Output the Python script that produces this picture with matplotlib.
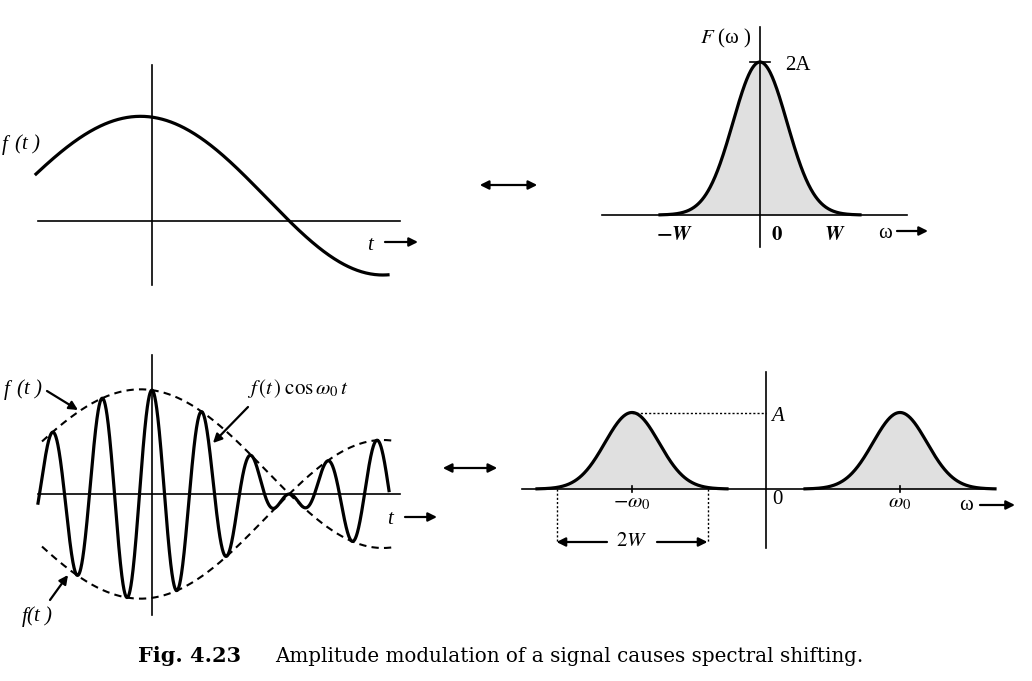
import numpy as np
import matplotlib
matplotlib.use('Agg')
import matplotlib.pyplot as plt

plt.rcParams['font.family'] = ['Liberation Serif', 'DejaVu Serif']
plt.rcParams['mathtext.fontset'] = 'stix'

# signal f(t) (t and f in units of 100 px)
t_nodes = [-1.17, -0.85, -0.52, -0.25, -0.04, 0.12, 0.28, 0.55, 0.81, 1.08, 1.38, 1.68, 2.01, 2.35]
f_nodes = [0.46, 0.74, 0.95, 1.02, 1.05, 1.03, 0.95, 0.77, 0.56, 0.31, 0.0, -0.29, -0.47, -0.54]
carrier_period = 0.50       # one cycle of cos(w0 t)
t_span = [-1.14, 2.37]

# spectrum
peak_2A = 1.53              # F(0) = 2A
peak_A = 0.765              # half height after modulation
sigma = 0.27                # width of the bell
w0 = 1.34                   # carrier position
W_half = 0.755              # band edge
top_labels = ['$\\mathbf{-}\\boldsymbol{W}$', '$\\mathbf{0}$', '$\\boldsymbol{W}$']
top_label_pos = [-0.85, 0.17, 0.75]

W, H = 1032, 681
fig = plt.figure(figsize=(W / 100, H / 100), dpi=100, facecolor='white')


def panel(x0, x1, y0, y1, ox, oy):
    # axes over a pixel box, data unit = 100 px, origin at (ox, oy)
    ax = fig.add_axes([x0 / W, 1 - y1 / H, (x1 - x0) / W, (y1 - y0) / H])
    ax.set_xlim((x0 - ox) / 100, (x1 - ox) / 100)
    ax.set_ylim((oy - y1) / 100, (oy - y0) / 100)
    ax.axis('off')
    return ax


def arrow(ax, start, end, lw=1.6, ms=13):
    ax.annotate('', xy=end, xytext=start,
                arrowprops=dict(arrowstyle='-|>', lw=lw, color='black',
                                mutation_scale=ms, shrinkA=0, shrinkB=0),
                annotation_clip=False)


coef = np.polyfit(t_nodes, f_nodes, 6)
lbl = dict(fontsize=15, style='italic', color='black')

# ---- upper left: f(t)
ax1 = panel(0, 440, 40, 300, 152, 221)
ax1.plot([-1.14, 2.48], [0, 0], color='black', lw=1.2)
ax1.plot([0, 0], [-0.64, 1.56], color='black', lw=1.2)
tt = np.linspace(-1.16, 2.36, 400)
ax1.plot(tt, np.polyval(coef, tt), color='black', lw=2.3)
ax1.text(-1.12, 0.76, '(t )', ha='right', va='center', clip_on=False, **lbl)
ax1.text(-1.44, 0.76, 'f', ha='right', va='center', clip_on=False, **lbl)
ax1.text(2.18, -0.24, 't', ha='center', va='center', **lbl)
arrow(ax1, (2.33, -0.21), (2.66, -0.21))

# ---- upper right: F(w)
ax2 = panel(560, 1032, 0, 300, 760, 215)
ww = np.linspace(-1.0, 1.0, 400)
Fw = peak_2A * np.exp(-ww ** 2 / (2 * sigma ** 2))
ax2.fill_between(ww, Fw, color='#e0e0e0', lw=0)
ax2.plot(ww, Fw, color='black', lw=2.3)
ax2.plot([-1.58, 1.47], [0, 0], color='black', lw=1.2)
ax2.plot([0, 0], [-0.32, 1.88], color='black', lw=1.2)
ax2.plot([-0.1, 0.1], [peak_2A, peak_2A], color='black', lw=1.2)
ax2.text(0.25, peak_2A - 0.03, '2A', ha='left', va='center', fontsize=15)
ax2.text(-0.08, 1.77, '$F$ (ω )', ha='right', va='center', fontsize=15)
for s, x in zip(top_labels, top_label_pos):
    ax2.text(x, -0.2, s, ha='center', va='center', fontsize=15)
ax2.text(1.25, -0.18, 'ω', ha='center', va='center', fontsize=15)
arrow(ax2, (1.37, -0.16), (1.68, -0.16))

# ---- lower left: f(t) cos w0 t
ax3 = panel(0, 440, 340, 630, 152, 494)
ax3.plot([-1.14, 2.48], [0, 0], color='black', lw=1.2)
ax3.plot([0, 0], [-1.21, 1.39], color='black', lw=1.2)
te = np.linspace(-1.10, 2.41, 400)
fe = np.polyval(coef, te)
ax3.plot(te, fe, color='black', lw=1.5, ls=(0, (3.5, 2.5)))
ax3.plot(te, -fe, color='black', lw=1.5, ls=(0, (3.5, 2.5)))
tm = np.linspace(t_span[0], t_span[1], 1500)
ax3.plot(tm, np.polyval(coef, tm) * np.cos(2 * np.pi * tm / carrier_period),
         color='black', lw=2.3)
ax3.text(-1.10, 1.04, '(t )', ha='right', va='center', clip_on=False, **lbl)
ax3.text(-1.42, 1.04, 'f', ha='right', va='center', clip_on=False, **lbl)
arrow(ax3, (-1.05, 1.03), (-0.74, 0.84))
ax3.text(1.46, 1.06, '$f\\,(t\\,)\\;\\mathrm{cos}\\,\\omega_0\\, t$', ha='center', va='center', fontsize=15)
arrow(ax3, (0.96, 0.87), (0.61, 0.51))
ax3.text(-1.0, -1.23, '(t )', ha='right', va='center', clip_on=False, **lbl)
ax3.text(-1.24, -1.23, 'f', ha='right', va='center', clip_on=False, **lbl)
arrow(ax3, (-1.02, -1.06), (-0.84, -0.81))
ax3.text(2.38, -0.26, 't', ha='center', va='center', **lbl)
arrow(ax3, (2.53, -0.23), (2.85, -0.23))

# ---- lower right: shifted spectrum
ax4 = panel(500, 1032, 340, 600, 766, 489)
for c in (-w0, w0):
    wb = np.linspace(c - 0.95, c + 0.95, 400)
    Fb = peak_A * np.exp(-(wb - c) ** 2 / (2 * sigma ** 2))
    ax4.fill_between(wb, Fb, color='#e0e0e0', lw=0)
    ax4.plot(wb, Fb, color='black', lw=2.3)
    ax4.plot([c, c], [-0.03, 0.03], color='black', lw=1.2)
ax4.plot([-2.44, 2.24], [0, 0], color='black', lw=1.2)
ax4.plot([0, 0], [-0.59, 1.17], color='black', lw=1.2)
ax4.plot([-w0, 0], [peak_A, peak_A], color='black', lw=1.0, ls=(0, (1.5, 1.5)))
ax4.text(0.05, peak_A - 0.04, 'A', ha='left', va='center', **lbl)
for e in (-w0 - W_half, -w0 + W_half):
    ax4.plot([e, e], [0, -0.53], color='black', lw=1.0, ls=(0, (1.5, 1.5)))
arrow(ax4, (-w0 - 0.25, -0.53), (-w0 - W_half, -0.53))
arrow(ax4, (-w0 + 0.25, -0.53), (-w0 + W_half, -0.53))
ax4.text(-w0, -0.53, '$2W$', ha='center', va='center', fontsize=15)
ax4.text(-w0, -0.14, '$-\\omega_0$', ha='center', va='center', fontsize=15)
ax4.text(w0, -0.14, '$\\omega_0$', ha='center', va='center', fontsize=15)
ax4.text(0.11, -0.11, '0', ha='center', va='center', fontsize=15)
ax4.text(2.0, -0.16, 'ω', ha='center', va='center', fontsize=15)
arrow(ax4, (2.14, -0.16), (2.49, -0.16))

# transform pair arrows
for (xa, xb, y) in [(477, 540, 185), (440, 500, 468)]:
    fig.patches.append(matplotlib.patches.FancyArrowPatch(
        (xa / W, 1 - y / H), (xb / W, 1 - y / H), transform=fig.transFigure,
        arrowstyle='<|-|>', mutation_scale=13, lw=1.6, color='black'))

fig.text(138 / W, 1 - 656 / H, 'Fig. 4.23', fontsize=15, fontweight='bold',
         family='DejaVu Serif', va='center', ha='left')
fig.text(275 / W, 1 - 656 / H, 'Amplitude modulation of a signal causes spectral shifting.',
         fontsize=14.3, family='DejaVu Serif', va='center', ha='left')

fig.savefig('out.png', dpi=100, facecolor='white')
